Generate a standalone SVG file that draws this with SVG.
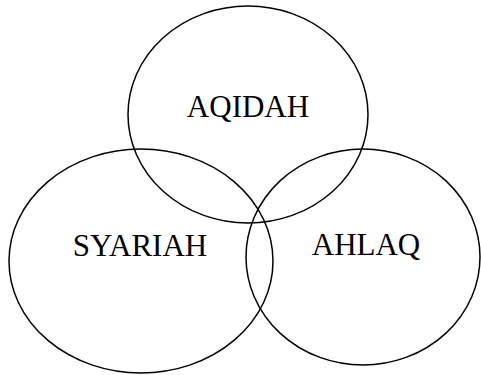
<svg xmlns="http://www.w3.org/2000/svg" width="481" height="375" viewBox="0 0 481 375">
<style>
.c{fill:none;stroke:#000;stroke-width:1.5}
.t{font-family:"Liberation Serif","Times New Roman",serif;font-size:31px;fill:#000;text-anchor:middle}
</style>
<rect width="481" height="375" fill="#fff"/>
<g id="aqidah">
<ellipse class="c" cx="248" cy="114.5" rx="120" ry="108.5"/>
<text class="t" x="248" y="117">AQIDAH</text>
</g>
<g id="syariah">
<ellipse class="c" cx="141" cy="261" rx="132" ry="112"/>
<text class="t" x="140" y="256">SYARIAH</text>
</g>
<g id="ahlaq">
<ellipse class="c" cx="363" cy="257" rx="117" ry="108"/>
<text class="t" x="366" y="255">AHLAQ</text>
</g>
<g id="connectors"/>
</svg>
